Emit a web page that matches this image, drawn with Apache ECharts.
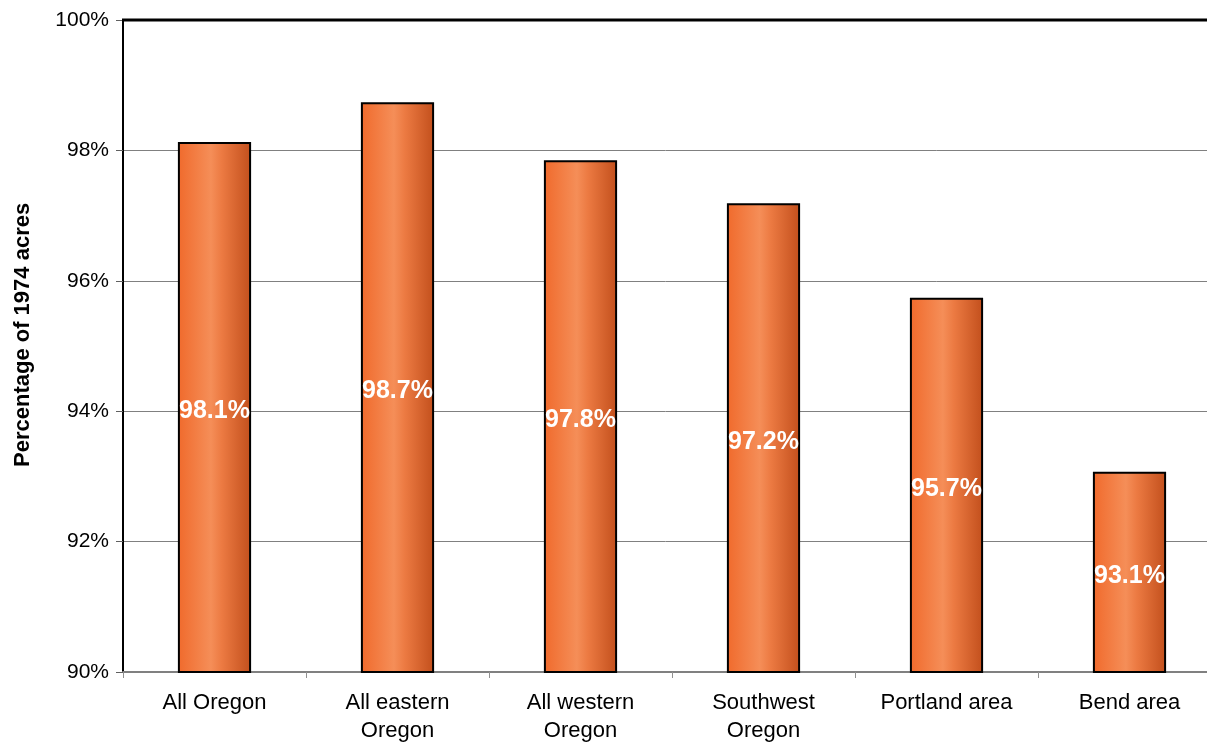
<!DOCTYPE html>
<html>
<head>
<meta charset="utf-8">
<script src="https://cdn.jsdelivr.net/npm/echarts@6/dist/echarts.min.js"></script>
<style>html,body{margin:0;padding:0;background:#fff;}#c{width:1207px;height:742px;}</style>
</head>
<body>
<div id="c"></div>
<script>
const categories = ['All Oregon', 'All eastern\nOregon', 'All western\nOregon', 'Southwest\nOregon', 'Portland area', 'Bend area'];
const values = [98.13, 98.74, 97.85, 97.19, 95.74, 93.07];
const valueLabels = ['98.1%', '98.7%', '97.8%', '97.2%', '95.7%', '93.1%'];
const yAxisTitle = 'Percentage of 1974 acres';

const chart = echarts.init(document.getElementById('c'));
const barGrad = new echarts.graphic.LinearGradient(0, 0, 1, 0, [
  {offset: 0, color: '#F06A2C'},
  {offset: 0.45, color: '#F58E58'},
  {offset: 0.6, color: '#EC7A42'},
  {offset: 1, color: '#C24F1C'}
]);
const FONT = '"Liberation Sans", Arial, sans-serif';
chart.setOption({
  animation: false,
  backgroundColor: '#ffffff',
  grid: {left: 123, top: 20, width: 1098, bottom: 70, outerBoundsMode: 'none'},
  xAxis: {
    type: 'category', data: categories,
    axisLine: {lineStyle: {color: '#808080', width: 2}},
    axisTick: {show: true, alignWithLabel: false, length: 6, lineStyle: {color: '#909090', width: 1}},
    axisLabel: {color: '#000', fontSize: 22, lineHeight: 28, margin: 17, fontFamily: FONT, interval: 0}
  },
  yAxis: {
    type: 'value', min: 90, max: 100, interval: 2,
    axisLine: {show: true, lineStyle: {color: '#000', width: 2}},
    axisTick: {show: true, length: 7, lineStyle: {color: '#606060', width: 1}},
    axisLabel: {color: '#000', fontSize: 21, margin: 14, fontFamily: FONT, formatter: v => v + '%'},
    splitLine: {show: true, lineStyle: {color: '#808080', width: 1}}
  },
  series: [{
    type: 'bar', data: values, barWidth: '40%',
    itemStyle: {color: barGrad, borderColor: '#000', borderWidth: 2},
    label: {show: true, position: 'inside', offset: [0, 4], color: '#fff', fontWeight: 'bold', fontSize: 25,
      fontFamily: FONT,
      formatter: p => valueLabels[p.dataIndex]}
  }],
  graphic: [
    {type: 'text', x: 12, y: 467, rotation: Math.PI / 2,
      style: {text: yAxisTitle, font: 'bold 22px ' + FONT, fill: '#000', textAlign: 'left', textVerticalAlign: 'top'}},
    {type: 'line', shape: {x1: 122, y1: 20, x2: 1207, y2: 20}, style: {stroke: '#000', lineWidth: 3}, z: 10}
  ]
});
</script>
</body>
</html>
